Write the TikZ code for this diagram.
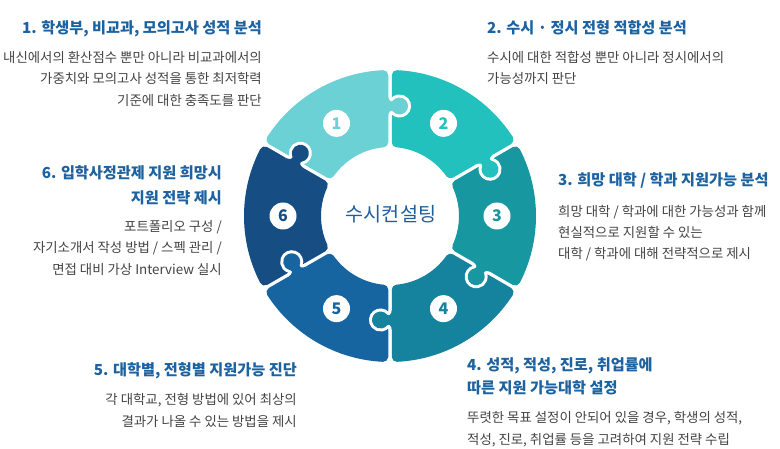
\documentclass[tikz,border=0pt]{standalone}
\usepackage{fontspec}
\setmainfont{Noto Sans CJK KR}
\definecolor{segA}{HTML}{6BD1D5}
\definecolor{segB}{HTML}{23C1BD}
\definecolor{segC}{HTML}{17979F}
\definecolor{segD}{HTML}{15829E}
\definecolor{segE}{HTML}{1665A0}
\definecolor{segF}{HTML}{164E84}
\definecolor{titleblue}{HTML}{1D62A0}
\definecolor{bodygray}{HTML}{444444}
\definecolor{centerblue}{HTML}{1F5F9C}
\newcommand\pzsector[2]{%
  \pgfmathsetmacro\pzOA{#1+asin(6.75/141)}%
  \pgfmathsetmacro\pzOB{#1+60-asin(6.75/141)}%
  \pgfmathsetmacro\pzIA{#1+60-asin(6.75/74)}%
  \pgfmathsetmacro\pzIB{#1+asin(6.75/74)}%
  \filldraw[fill=#2, draw=#2, line width=10pt, line join=round]
    (\pzOA:141pt) arc[start angle=\pzOA, end angle=\pzOB, radius=141pt]
    -- (\pzIA:74pt) arc[start angle=\pzIA, end angle=\pzIB, radius=74pt] -- cycle;
}
\newcommand\pztab[3]{%
  \begin{scope}[rotate=#1, shift={(#2,0)}]
    \draw[white, line width=6pt]
      (-10,1.75) .. controls (-6,1.75) and (-3.16,-1.06) .. (-5.46,-2.99)
      arc[start angle=130, end angle=410, radius=8.5pt]
      .. controls (3.16,-1.06) and (6,1.75) .. (10,1.75);
    \fill[#3]
      (-10,1.75) .. controls (-6,1.75) and (-3.16,-1.06) .. (-5.46,-2.99)
      arc[start angle=130, end angle=410, radius=8.5pt]
      .. controls (3.16,-1.06) and (6,1.75) .. (10,1.75)
      -- (10,6) -- (-10,6) -- cycle;
  \end{scope}%
}
\begin{document}
\begin{tikzpicture}[x=1pt,y=1pt,
  titletext/.style={inner sep=0pt, text=titleblue, font=\fontsize{15.2}{17}\selectfont\bfseries},
  bodytext/.style={inner sep=0pt, text=bodygray, font=\fontsize{13.4}{15}\selectfont},
  numc/.style={circle, fill=white, minimum size=27pt, inner sep=0pt, font=\fontsize{16}{17}\selectfont\bfseries}]
\useasboundingbox (0,0) rectangle (780,448);
\fill[white] (0,0) rectangle (780,448);
\begin{scope}[shift={(390,232)}]
  \pzsector{90}{segA}
  \pzsector{30}{segB}
  \pzsector{-30}{segC}
  \pzsector{-90}{segD}
  \pzsector{210}{segE}
  \pzsector{150}{segF}
  \pztab{90}{110}{segA}
  \pztab{30}{110}{segB}
  \pztab{-30}{105}{segC}
  \pztab{-90}{104}{segD}
  \pztab{210}{108}{segE}
  \pztab{150}{109}{segF}
  \node[numc, text=segA] (n1) at (120:107pt) {1};
  \node[numc, text=segB] (n2) at (60:107pt) {2};
  \node[numc, text=segC] (n3) at (0:107pt) {3};
  \node[numc, text=segD] (n4) at (-60:107pt) {4};
  \node[numc, text=segE] (n5) at (240:107pt) {5};
  \node[numc, text=segF] (n6) at (180:107pt) {6};
  \node[inner sep=0pt, anchor=base, text=centerblue, font=\fontsize{19.6}{22}\selectfont] (ctr) at (1,-6) {수시컨설팅};
\end{scope}
% block 1
\node[titletext, anchor=base east] (t1) at (262,414.5) {1. 학생부, 비교과, 모의고사 성적 분석};
\node[bodytext, anchor=base east] (b1a) at (262,385.7) {내신에서의 환산점수 뿐만 아니라 비교과에서의};
\node[bodytext, anchor=base east] (b1b) at (262,364.2) {가중치와 모의고사 성적을 통한 최저학력};
\node[bodytext, anchor=base east] (b1c) at (262,342.7) {기준에 대한 충족도를 판단};
% block 2
\node[titletext, anchor=base west] (t2) at (487,414.5) {2. 수시 · 정시 전형 적합성 분석};
\node[bodytext, anchor=base west] (b2a) at (487,385.7) {수시에 대한 적합성 뿐만 아니라 정시에서의};
\node[bodytext, anchor=base west] (b2b) at (487,364.2) {가능성까지 판단};
% block 3
\node[titletext, anchor=base west] (t3) at (558,262.5) {3. 희망 대학 / 학과 지원가능 분석};
\node[bodytext, anchor=base west] (b3a) at (558,231.7) {희망 대학 / 학과에 대한 가능성과 함께};
\node[bodytext, anchor=base west] (b3b) at (558,210.7) {현실적으로 지원할 수 있는};
\node[bodytext, anchor=base west] (b3c) at (558,189.7) {대학 / 학과에 대해 전략적으로 제시};
% block 6
\node[titletext, anchor=base east] (t6a) at (222,269.5) {6. 입학사정관제 지원 희망시};
\node[titletext, anchor=base east] (t6b) at (222,244.5) {지원 전략 제시};
\node[bodytext, anchor=base east] (b6a) at (222,216.7) {포트폴리오 구성 /};
\node[bodytext, anchor=base east] (b6b) at (222,195.2) {자기소개서 작성 방법 / 스펙 관리 /};
\node[bodytext, anchor=base east] (b6c) at (222,173.7) {면접 대비 가상 Interview 실시};
% block 5
\node[titletext, anchor=base east] (t5) at (297,72.5) {5. 대학별, 전형별 지원가능 진단};
\node[bodytext, anchor=base east] (b5a) at (297,43.2) {각 대학교, 전형 방법에 있어 최상의};
\node[bodytext, anchor=base east] (b5b) at (297,21.2) {결과가 나올 수 있는 방법을 제시};
% block 4
\node[titletext, anchor=base west] (t4a) at (467,77.5) {4. 성적, 적성, 진로, 취업률에};
\node[titletext, anchor=base west] (t4b) at (467,54.5) {따른 지원 가능대학 설정};
\node[bodytext, anchor=base west] (b4a) at (467,25.2) {뚜렷한 목표 설정이 안되어 있을 경우, 학생의 성적,};
\node[bodytext, anchor=base west] (b4b) at (467,3.7) {적성, 진로, 취업률 등을 고려하여 지원 전략 수립};
\end{tikzpicture}
\end{document}
